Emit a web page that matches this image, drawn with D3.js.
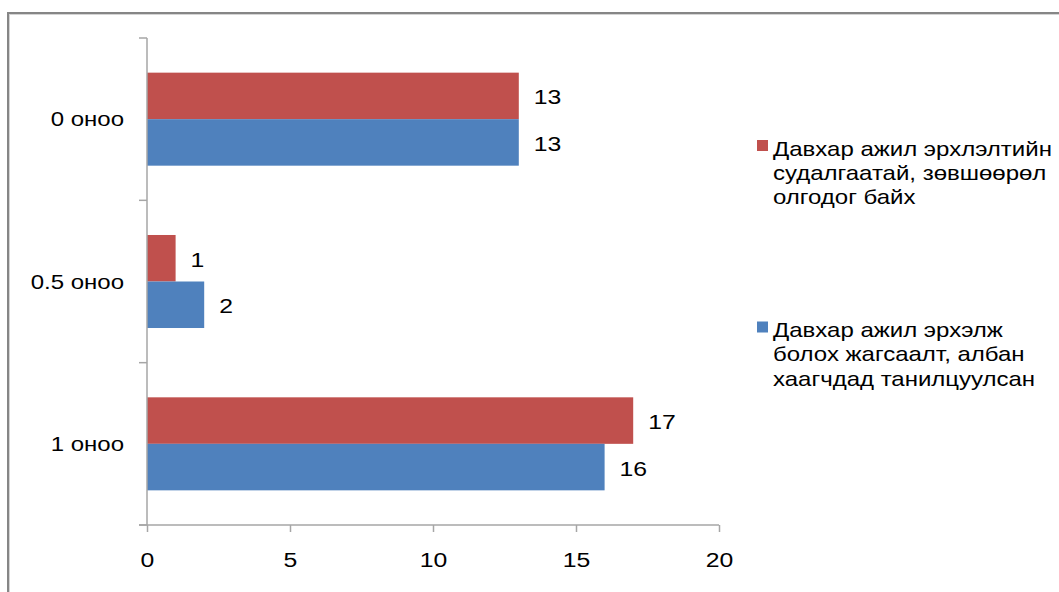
<!DOCTYPE html>
<html>
<head>
<meta charset="utf-8">
<script src="https://cdn.jsdelivr.net/npm/d3@7/dist/d3.min.js"></script>
<style>
  html, body { margin: 0; padding: 0; background: #fff; }
  svg { display: block; font-family: "Liberation Sans", Arial, sans-serif; }
</style>
</head>
<body>
<svg id="chart" width="1059" height="592"></svg>
<script>
const categories = ["0 оноо", "0.5 оноо", "1 оноо"];
const seriesNames = [
  "Давхар ажил эрхлэлтийн судалгаатай, зөвшөөрөл олгодог байх",
  "Давхар ажил эрхэлж болох жагсаалт, албан хаагчдад танилцуулсан"
];
const legendLines = [
  ["Давхар ажил эрхлэлтийн", "судалгаатай, зөвшөөрөл", "олгодог байх"],
  ["Давхар ажил эрхэлж", "болох жагсаалт, албан", "хаагчдад танилцуулсан"]
];
const seriesColors = ["#C0504D", "#4F81BD"];
const redValues = [13, 1, 17];
const blueValues = [13, 2, 16];
const xTicks = [0, 5, 10, 15, 20];

const values = [redValues, blueValues];
const svg = d3.select("#chart");
const SX_NUM = 1.18, SX_TXT = 1.2;

// outer frame (extends past the window on right and bottom)
svg.append("rect")
  .attr("x", 8.5).attr("y", 13.5).attr("width", 1100).attr("height", 700)
  .attr("fill", "none").attr("stroke", "#d4d4d4").attr("stroke-width", 3);
svg.append("rect")
  .attr("x", 8).attr("y", 13).attr("width", 1100).attr("height", 700)
  .attr("fill", "none").attr("stroke", "#868686").attr("stroke-width", 2);

const x = d3.scaleLinear().domain([0, 20]).range([147, 719]);
const y = d3.scaleBand().domain(categories).range([38, 525])
  .paddingInner(0.427).paddingOuter(0.2135);
const ySub = d3.scaleBand().domain([0, 1]).range([0, y.bandwidth()]);

const axisColor = "#a6a6a6";

// bars
categories.forEach((c, i) => {
  values.forEach((vals, s) => {
    svg.append("rect")
      .attr("x", x(0))
      .attr("y", y(c) + ySub(s))
      .attr("width", x(vals[i]) - x(0))
      .attr("height", ySub.bandwidth())
      .attr("fill", seriesColors[s]);
    svg.append("text")
      .attr("transform", `translate(${x(vals[i]) + 15},${y(c) + ySub(s) + ySub.bandwidth() / 2 + 1}) scale(${SX_NUM},1)`)
      .attr("dy", "0.36em")
      .attr("font-size", 21)
      .attr("fill", "#000")
      .text(vals[i]);
  });
});

// y axis line + ticks at category boundaries
const yTop = 38, yBot = 525;
svg.append("line").attr("x1", x(0)).attr("x2", x(0)).attr("y1", yTop).attr("y2", yBot)
  .attr("stroke", axisColor).attr("stroke-width", 1.5);
const step = (yBot - yTop) / categories.length;
d3.range(categories.length + 1).forEach(k => {
  const yy = yTop + k * step;
  svg.append("line").attr("x1", x(0) - 8).attr("x2", x(0)).attr("y1", yy).attr("y2", yy)
    .attr("stroke", axisColor).attr("stroke-width", 1.5);
});
svg.selectAll(".cat").data(categories).enter().append("text")
  .attr("transform", d => `translate(124,${y(d) + y.bandwidth() / 2}) scale(${SX_TXT},1)`)
  .attr("dy", "0.36em")
  .attr("text-anchor", "end")
  .attr("font-size", 20)
  .text(d => d);

// x axis
const xAxis = d3.axisBottom(x).tickValues(xTicks).tickSize(7).tickPadding(20).tickSizeOuter(0);
const gx = svg.append("g").attr("transform", `translate(0,${yBot})`).call(xAxis);
gx.select(".domain").remove();
gx.selectAll(".tick line").attr("stroke", axisColor).attr("stroke-width", 1.5);
gx.selectAll(".tick text").attr("font-size", 21).attr("fill", "#000")
  .attr("font-family", "'Liberation Sans', Arial, sans-serif")
  .attr("transform", `scale(${SX_NUM},1)`);
svg.append("line").attr("x1", x(0) - 8).attr("x2", x(20)).attr("y1", yBot).attr("y2", yBot)
  .attr("stroke", axisColor).attr("stroke-width", 1.5);

// legend
const legendY = [140, 321.5];
legendLines.forEach((lines, s) => {
  svg.append("rect").attr("x", 757).attr("y", legendY[s]).attr("width", 11).attr("height", 11)
    .attr("fill", seriesColors[s]);
  const t = svg.append("text")
    .attr("transform", `translate(773,${legendY[s] + 15.5}) scale(${SX_TXT},1)`)
    .attr("font-size", 20);
  lines.forEach((ln, k) => {
    t.append("tspan").attr("x", 0).attr("dy", k === 0 ? 0 : 24.5).text(ln);
  });
});
</script>
</body>
</html>
